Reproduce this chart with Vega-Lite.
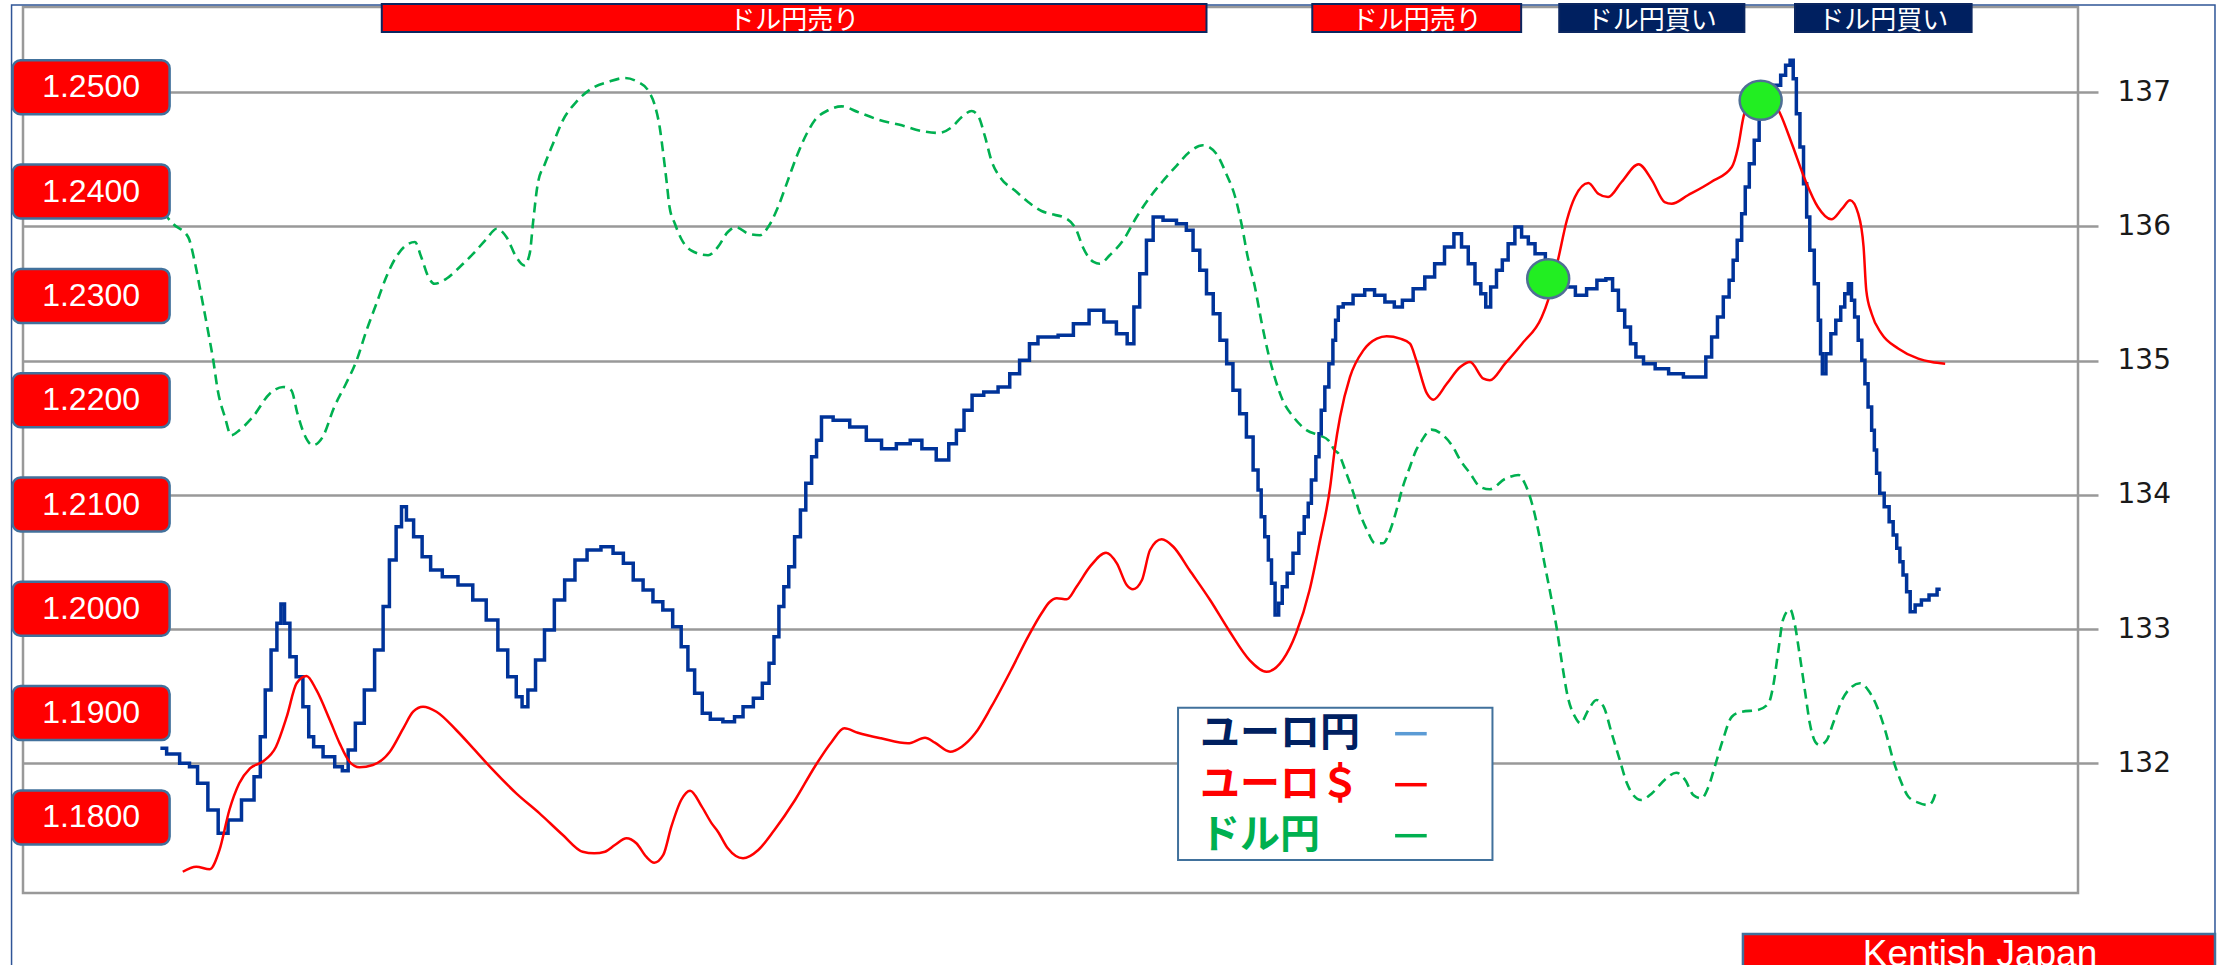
{
"$schema": "https://vega.github.io/schema/vega-lite/v6.json",
"width": 2055, "height": 886,
"autosize": {"type": "none"},
"padding": {"left": 23, "top": 7, "right": 146, "bottom": 72},
"background": "#ffffff",
"config": {"view": {"stroke": "#999999", "strokeWidth": 2.5}},
"datasets": {
"eurjpy": [
{"t":"2017-11-18T06:00","v":132.112},{"t":"2017-11-18T20:00","v":132.069},{"t":"2017-11-19T11:00","v":132.0},{"t":"2017-11-19T18:00","v":131.975},{"t":"2017-11-20T05:00","v":131.851},{"t":"2017-11-20T17:00","v":131.652},{"t":"2017-11-21T04:00","v":131.479},{"t":"2017-11-21T15:00","v":131.578},{"t":"2017-11-22T10:00","v":131.727},{"t":"2017-11-22T19:00","v":131.9},{"t":"2017-11-23T00:00","v":132.198},{"t":"2017-11-23T06:00","v":132.546},{"t":"2017-11-23T13:00","v":132.844},{"t":"2017-11-23T19:00","v":133.043},{"t":"2017-11-23T22:00","v":133.187},{"t":"2017-11-24T03:00","v":133.043},{"t":"2017-11-24T10:00","v":132.794},{"t":"2017-11-24T17:00","v":132.645},{"t":"2017-11-25T01:00","v":132.422},{"t":"2017-11-25T06:00","v":132.198},{"t":"2017-11-25T12:00","v":132.124},{"t":"2017-11-26T03:00","v":132.049},{"t":"2017-11-26T14:00","v":131.975},{"t":"2017-11-26T20:00","v":131.945},{"t":"2017-11-27T03:00","v":132.099},{"t":"2017-11-27T12:00","v":132.298},{"t":"2017-11-27T23:00","v":132.546},{"t":"2017-11-28T11:00","v":132.844},{"t":"2017-11-28T18:00","v":133.167},{"t":"2017-11-29T01:00","v":133.514},{"t":"2017-11-29T09:00","v":133.762},{"t":"2017-11-29T13:00","v":133.911},{"t":"2017-11-29T20:00","v":133.812},{"t":"2017-11-30T05:00","v":133.688},{"t":"2017-11-30T15:00","v":133.539},{"t":"2017-12-01T00:00","v":133.44},{"t":"2017-12-01T17:00","v":133.39},{"t":"2017-12-02T11:00","v":133.328},{"t":"2017-12-03T02:00","v":133.216},{"t":"2017-12-03T17:00","v":133.067},{"t":"2017-12-04T04:00","v":132.844},{"t":"2017-12-04T15:00","v":132.645},{"t":"2017-12-04T23:00","v":132.496},{"t":"2017-12-05T04:00","v":132.422},{"t":"2017-12-05T12:00","v":132.546},{"t":"2017-12-05T21:00","v":132.769},{"t":"2017-12-06T08:00","v":132.993},{"t":"2017-12-06T19:00","v":133.216},{"t":"2017-12-07T07:00","v":133.365},{"t":"2017-12-07T18:00","v":133.514},{"t":"2017-12-08T10:00","v":133.589},{"t":"2017-12-09T01:00","v":133.613},{"t":"2017-12-09T13:00","v":133.564},{"t":"2017-12-10T00:00","v":133.49},{"t":"2017-12-10T11:00","v":133.365},{"t":"2017-12-10T22:00","v":133.291},{"t":"2017-12-11T09:00","v":133.204},{"t":"2017-12-11T20:00","v":133.142},{"t":"2017-12-12T07:00","v":133.017},{"t":"2017-12-12T15:00","v":132.868},{"t":"2017-12-12T22:00","v":132.695},{"t":"2017-12-13T06:00","v":132.521},{"t":"2017-12-13T15:00","v":132.372},{"t":"2017-12-14T00:00","v":132.328},{"t":"2017-12-14T19:00","v":132.31},{"t":"2017-12-15T02:00","v":132.347},{"t":"2017-12-15T14:00","v":132.422},{"t":"2017-12-16T01:00","v":132.484},{"t":"2017-12-16T10:00","v":132.596},{"t":"2017-12-16T16:00","v":132.745},{"t":"2017-12-16T21:00","v":132.943},{"t":"2017-12-17T03:00","v":133.167},{"t":"2017-12-17T08:00","v":133.315},{"t":"2017-12-17T14:00","v":133.464},{"t":"2017-12-17T21:00","v":133.688},{"t":"2017-12-18T03:00","v":133.887},{"t":"2017-12-18T09:00","v":134.086},{"t":"2017-12-18T16:00","v":134.284},{"t":"2017-12-18T20:00","v":134.406},{"t":"2017-12-19T03:00","v":134.579},{"t":"2017-12-19T22:00","v":134.555},{"t":"2017-12-20T16:00","v":134.505},{"t":"2017-12-21T11:00","v":134.406},{"t":"2017-12-22T02:00","v":134.343},{"t":"2017-12-22T20:00","v":134.38},{"t":"2017-12-23T09:00","v":134.406},{"t":"2017-12-23T22:00","v":134.343},{"t":"2017-12-24T17:00","v":134.259},{"t":"2017-12-25T02:00","v":134.38},{"t":"2017-12-25T10:00","v":134.48},{"t":"2017-12-25T19:00","v":134.629},{"t":"2017-12-26T04:00","v":134.741},{"t":"2017-12-26T21:00","v":134.766},{"t":"2017-12-27T12:00","v":134.803},{"t":"2017-12-27T23:00","v":134.902},{"t":"2017-12-28T10:00","v":135.002},{"t":"2017-12-28T21:00","v":135.125},{"t":"2017-12-29T05:00","v":135.175},{"t":"2017-12-29T14:00","v":135.175},{"t":"2017-12-30T09:00","v":135.188},{"t":"2017-12-31T00:00","v":135.274},{"t":"2017-12-31T20:00","v":135.374},{"t":"2018-01-01T09:00","v":135.287},{"t":"2018-01-02T00:00","v":135.2},{"t":"2018-01-02T09:00","v":135.125},{"t":"2018-01-02T15:00","v":135.399},{"t":"2018-01-02T22:00","v":135.647},{"t":"2018-01-03T06:00","v":135.895},{"t":"2018-01-03T13:00","v":136.069},{"t":"2018-01-04T04:00","v":136.044},{"t":"2018-01-04T19:00","v":136.019},{"t":"2018-01-05T02:00","v":135.97},{"t":"2018-01-05T10:00","v":135.821},{"t":"2018-01-05T17:00","v":135.672},{"t":"2018-01-06T01:00","v":135.498},{"t":"2018-01-06T08:00","v":135.349},{"t":"2018-01-06T16:00","v":135.151},{"t":"2018-01-06T23:00","v":134.976},{"t":"2018-01-07T06:00","v":134.778},{"t":"2018-01-07T14:00","v":134.604},{"t":"2018-01-07T21:00","v":134.43},{"t":"2018-01-08T05:00","v":134.185},{"t":"2018-01-08T08:00","v":134.036},{"t":"2018-01-08T12:00","v":133.837},{"t":"2018-01-08T16:00","v":133.688},{"t":"2018-01-08T20:00","v":133.514},{"t":"2018-01-08T23:00","v":133.341},{"t":"2018-01-09T04:00","v":133.105},{"t":"2018-01-09T07:00","v":133.192},{"t":"2018-01-09T12:00","v":133.315},{"t":"2018-01-09T18:00","v":133.415},{"t":"2018-01-10T01:00","v":133.564},{"t":"2018-01-10T07:00","v":133.713},{"t":"2018-01-10T13:00","v":133.837},{"t":"2018-01-10T16:00","v":133.937},{"t":"2018-01-10T20:00","v":134.11},{"t":"2018-01-11T02:00","v":134.284},{"t":"2018-01-11T03:00","v":134.455},{"t":"2018-01-11T07:00","v":134.629},{"t":"2018-01-11T11:00","v":134.803},{"t":"2018-01-11T16:00","v":134.976},{"t":"2018-01-11T20:00","v":135.151},{"t":"2018-01-11T22:00","v":135.3},{"t":"2018-01-12T02:00","v":135.399},{"t":"2018-01-12T09:00","v":135.423},{"t":"2018-01-13T00:00","v":135.486},{"t":"2018-01-13T11:00","v":135.527},{"t":"2018-01-13T22:00","v":135.486},{"t":"2018-01-14T10:00","v":135.436},{"t":"2018-01-14T19:00","v":135.399},{"t":"2018-01-15T04:00","v":135.449},{"t":"2018-01-15T19:00","v":135.535},{"t":"2018-01-16T06:00","v":135.622},{"t":"2018-01-16T17:00","v":135.721},{"t":"2018-01-17T04:00","v":135.846},{"t":"2018-01-17T14:00","v":135.945},{"t":"2018-01-17T21:00","v":135.846},{"t":"2018-01-18T05:00","v":135.721},{"t":"2018-01-18T12:00","v":135.572},{"t":"2018-01-18T18:00","v":135.498},{"t":"2018-01-18T23:00","v":135.399},{"t":"2018-01-19T05:00","v":135.548},{"t":"2018-01-19T12:00","v":135.672},{"t":"2018-01-19T18:00","v":135.749},{"t":"2018-01-20T01:00","v":135.87},{"t":"2018-01-20T09:00","v":135.994},{"t":"2018-01-20T16:00","v":135.92},{"t":"2018-01-21T00:00","v":135.87},{"t":"2018-01-21T07:00","v":135.796},{"t":"2018-01-21T23:00","v":135.659},{"t":"2018-01-22T18:00","v":135.548},{"t":"2018-01-23T07:00","v":135.486},{"t":"2018-01-23T19:00","v":135.535},{"t":"2018-01-24T06:00","v":135.597},{"t":"2018-01-24T15:00","v":135.609},{"t":"2018-01-24T21:00","v":135.523},{"t":"2018-01-25T04:00","v":135.374},{"t":"2018-01-25T11:00","v":135.25},{"t":"2018-01-25T17:00","v":135.125},{"t":"2018-01-25T23:00","v":135.026},{"t":"2018-01-26T10:00","v":134.976},{"t":"2018-01-27T01:00","v":134.939},{"t":"2018-01-27T16:00","v":134.902},{"t":"2018-01-28T10:00","v":134.877},{"t":"2018-01-28T23:00","v":134.877},{"t":"2018-01-29T05:00","v":135.026},{"t":"2018-01-29T12:00","v":135.175},{"t":"2018-01-29T18:00","v":135.324},{"t":"2018-01-30T01:00","v":135.473},{"t":"2018-01-30T07:00","v":135.597},{"t":"2018-01-30T10:00","v":135.746},{"t":"2018-01-30T16:00","v":135.895},{"t":"2018-01-30T20:00","v":136.094},{"t":"2018-01-31T00:00","v":136.292},{"t":"2018-01-31T05:00","v":136.466},{"t":"2018-01-31T11:00","v":136.64},{"t":"2018-01-31T16:00","v":136.814},{"t":"2018-02-01T02:00","v":136.955},{"t":"2018-02-01T11:00","v":137.05},{"t":"2018-02-01T16:00","v":137.124},{"t":"2018-02-01T22:00","v":137.199},{"t":"2018-02-02T02:00","v":137.236},{"t":"2018-02-02T05:00","v":137.099},{"t":"2018-02-02T09:00","v":136.838},{"t":"2018-02-02T13:00","v":136.59},{"t":"2018-02-02T17:00","v":136.317},{"t":"2018-02-02T20:00","v":136.069},{"t":"2018-02-03T00:00","v":135.821},{"t":"2018-02-03T06:00","v":135.572},{"t":"2018-02-03T09:00","v":135.3},{"t":"2018-02-03T11:00","v":135.051},{"t":"2018-02-03T13:00","v":134.902},{"t":"2018-02-03T19:00","v":135.051},{"t":"2018-02-04T00:00","v":135.2},{"t":"2018-02-04T06:00","v":135.3},{"t":"2018-02-04T11:00","v":135.399},{"t":"2018-02-04T15:00","v":135.498},{"t":"2018-02-04T19:00","v":135.572},{"t":"2018-02-04T22:00","v":135.449},{"t":"2018-02-05T02:00","v":135.324},{"t":"2018-02-05T06:00","v":135.151},{"t":"2018-02-05T10:00","v":135.002},{"t":"2018-02-05T13:00","v":134.827},{"t":"2018-02-05T17:00","v":134.654},{"t":"2018-02-05T21:00","v":134.48},{"t":"2018-02-05T23:00","v":134.334},{"t":"2018-02-06T02:00","v":134.16},{"t":"2018-02-06T06:00","v":134.011},{"t":"2018-02-06T12:00","v":133.911},{"t":"2018-02-06T17:00","v":133.8},{"t":"2018-02-06T21:00","v":133.7},{"t":"2018-02-07T01:00","v":133.601},{"t":"2018-02-07T04:00","v":133.502},{"t":"2018-02-07T08:00","v":133.402},{"t":"2018-02-07T12:00","v":133.278},{"t":"2018-02-07T16:00","v":133.129},{"t":"2018-02-07T23:00","v":133.179},{"t":"2018-02-08T06:00","v":133.216},{"t":"2018-02-08T16:00","v":133.254},{"t":"2018-02-09T00:00","v":133.296}
],
"eurusd": [
{"t":"2017-11-19T07:00","v":1.17479},{"t":"2017-11-19T22:00","v":1.17527},{"t":"2017-11-20T13:00","v":1.17502},{"t":"2017-11-21T00:00","v":1.17688},{"t":"2017-11-21T11:00","v":1.18071},{"t":"2017-11-21T22:00","v":1.18327},{"t":"2017-11-22T10:00","v":1.18471},{"t":"2017-11-23T00:00","v":1.18534},{"t":"2017-11-23T15:00","v":1.18678},{"t":"2017-11-24T03:00","v":1.18966},{"t":"2017-11-24T14:00","v":1.19286},{"t":"2017-11-25T01:00","v":1.19356},{"t":"2017-11-25T12:00","v":1.19222},{"t":"2017-11-26T03:00","v":1.18934},{"t":"2017-11-26T14:00","v":1.1871},{"t":"2017-11-27T01:00","v":1.18534},{"t":"2017-11-27T12:00","v":1.1848},{"t":"2017-11-28T03:00","v":1.18502},{"t":"2017-11-28T22:00","v":1.1863},{"t":"2017-11-29T13:00","v":1.18854},{"t":"2017-11-30T00:00","v":1.19013},{"t":"2017-11-30T11:00","v":1.19061},{"t":"2017-12-01T02:00","v":1.19013},{"t":"2017-12-02T00:00","v":1.18838},{"t":"2017-12-02T19:00","v":1.18662},{"t":"2017-12-03T17:00","v":1.18455},{"t":"2017-12-04T19:00","v":1.18231},{"t":"2017-12-05T21:00","v":1.18039},{"t":"2017-12-06T23:00","v":1.17831},{"t":"2017-12-07T21:00","v":1.17671},{"t":"2017-12-08T10:00","v":1.17656},{"t":"2017-12-08T22:00","v":1.17671},{"t":"2017-12-09T09:00","v":1.17735},{"t":"2017-12-09T22:00","v":1.178},{"t":"2017-12-10T09:00","v":1.17752},{"t":"2017-12-10T20:00","v":1.17623},{"t":"2017-12-11T05:00","v":1.17566},{"t":"2017-12-11T15:00","v":1.1764},{"t":"2017-12-12T00:00","v":1.17911},{"t":"2017-12-12T11:00","v":1.18167},{"t":"2017-12-12T21:00","v":1.18256},{"t":"2017-12-13T10:00","v":1.18103},{"t":"2017-12-13T21:00","v":1.17943},{"t":"2017-12-14T04:00","v":1.17863},{"t":"2017-12-14T15:00","v":1.17704},{"t":"2017-12-15T08:00","v":1.17608},{"t":"2017-12-16T01:00","v":1.17688},{"t":"2017-12-16T19:00","v":1.17879},{"t":"2017-12-17T18:00","v":1.18167},{"t":"2017-12-18T16:00","v":1.18486},{"t":"2017-12-19T11:00","v":1.18726},{"t":"2017-12-20T01:00","v":1.18854},{"t":"2017-12-20T16:00","v":1.18812},{"t":"2017-12-21T18:00","v":1.18758},{"t":"2017-12-23T00:00","v":1.1871},{"t":"2017-12-23T19:00","v":1.18764},{"t":"2017-12-24T06:00","v":1.18716},{"t":"2017-12-24T23:00","v":1.1863},{"t":"2017-12-25T12:00","v":1.18678},{"t":"2017-12-26T03:00","v":1.18806},{"t":"2017-12-26T21:00","v":1.19061},{"t":"2017-12-27T19:00","v":1.19413},{"t":"2017-12-28T14:00","v":1.19733},{"t":"2017-12-29T05:00","v":1.19957},{"t":"2017-12-29T14:00","v":1.20065},{"t":"2017-12-29T22:00","v":1.20101},{"t":"2017-12-30T09:00","v":1.20091},{"t":"2017-12-30T20:00","v":1.20212},{"t":"2017-12-31T11:00","v":1.20404},{"t":"2018-01-01T05:00","v":1.20538},{"t":"2018-01-01T17:00","v":1.20436},{"t":"2018-01-02T04:00","v":1.20228},{"t":"2018-01-02T11:00","v":1.20187},{"t":"2018-01-02T21:00","v":1.20276},{"t":"2018-01-03T06:00","v":1.20564},{"t":"2018-01-03T19:00","v":1.20666},{"t":"2018-01-04T08:00","v":1.20595},{"t":"2018-01-05T02:00","v":1.20372},{"t":"2018-01-06T01:00","v":1.20084},{"t":"2018-01-06T23:00","v":1.1978},{"t":"2018-01-07T21:00","v":1.19509},{"t":"2018-01-08T16:00","v":1.19397},{"t":"2018-01-09T10:00","v":1.19509},{"t":"2018-01-10T01:00","v":1.19765},{"t":"2018-01-10T16:00","v":1.2018},{"t":"2018-01-11T03:00","v":1.20628},{"t":"2018-01-11T15:00","v":1.21171},{"t":"2018-01-11T20:00","v":1.21523},{"t":"2018-01-12T02:00","v":1.21839},{"t":"2018-01-12T13:00","v":1.22222},{"t":"2018-01-13T04:00","v":1.22478},{"t":"2018-01-13T19:00","v":1.2259},{"t":"2018-01-14T06:00","v":1.22613},{"t":"2018-01-14T21:00","v":1.2259},{"t":"2018-01-15T08:00","v":1.22542},{"t":"2018-01-15T15:00","v":1.22383},{"t":"2018-01-16T03:00","v":1.22062},{"t":"2018-01-16T10:00","v":1.22005},{"t":"2018-01-17T01:00","v":1.22158},{"t":"2018-01-17T16:00","v":1.22318},{"t":"2018-01-18T03:00","v":1.22366},{"t":"2018-01-18T18:00","v":1.22206},{"t":"2018-01-19T01:00","v":1.22191},{"t":"2018-01-19T18:00","v":1.2235},{"t":"2018-01-20T13:00","v":1.22542},{"t":"2018-01-21T11:00","v":1.22798},{"t":"2018-01-21T18:00","v":1.22958},{"t":"2018-01-22T05:00","v":1.23341},{"t":"2018-01-22T15:00","v":1.23725},{"t":"2018-01-23T00:00","v":1.23948},{"t":"2018-01-23T15:00","v":1.24082},{"t":"2018-01-24T02:00","v":1.2398},{"t":"2018-01-24T13:00","v":1.23948},{"t":"2018-01-25T04:00","v":1.24092},{"t":"2018-01-25T23:00","v":1.24262},{"t":"2018-01-26T14:00","v":1.24108},{"t":"2018-01-27T04:00","v":1.239},{"t":"2018-01-27T12:00","v":1.23884},{"t":"2018-01-28T06:00","v":1.23965},{"t":"2018-01-29T08:00","v":1.24092},{"t":"2018-01-30T07:00","v":1.24236},{"t":"2018-01-30T14:00","v":1.24428},{"t":"2018-01-30T20:00","v":1.24715},{"t":"2018-01-31T12:00","v":1.25007},{"t":"2018-02-01T13:00","v":1.24747},{"t":"2018-02-02T02:00","v":1.24459},{"t":"2018-02-02T17:00","v":1.24108},{"t":"2018-02-03T07:00","v":1.23852},{"t":"2018-02-03T22:00","v":1.23734},{"t":"2018-02-04T10:00","v":1.23836},{"t":"2018-02-04T19:00","v":1.23917},{"t":"2018-02-05T04:00","v":1.23788},{"t":"2018-02-05T10:00","v":1.23469},{"t":"2018-02-05T13:00","v":1.23054},{"t":"2018-02-05T19:00","v":1.22829},{"t":"2018-02-06T06:00","v":1.22638},{"t":"2018-02-07T01:00","v":1.22494},{"t":"2018-02-07T23:00","v":1.22398},{"t":"2018-02-08T14:00","v":1.22366},{"t":"2018-02-09T05:00","v":1.2235}
],
"usdjpy": [
{"t":"2017-11-18T09:00","v":112.806},{"t":"2017-11-18T20:00","v":112.719},{"t":"2017-11-19T13:00","v":112.62},{"t":"2017-11-19T20:00","v":112.446},{"t":"2017-11-20T04:00","v":112.173},{"t":"2017-11-20T11:00","v":111.925},{"t":"2017-11-20T17:00","v":111.702},{"t":"2017-11-20T22:00","v":111.478},{"t":"2017-11-21T06:00","v":111.279},{"t":"2017-11-21T13:00","v":111.143},{"t":"2017-11-21T22:00","v":111.18},{"t":"2017-11-22T13:00","v":111.279},{"t":"2017-11-23T08:00","v":111.453},{"t":"2017-11-23T23:00","v":111.503},{"t":"2017-11-24T08:00","v":111.478},{"t":"2017-11-24T15:00","v":111.304},{"t":"2017-11-24T23:00","v":111.143},{"t":"2017-11-25T08:00","v":111.069},{"t":"2017-11-25T19:00","v":111.13},{"t":"2017-11-26T08:00","v":111.354},{"t":"2017-11-26T21:00","v":111.527},{"t":"2017-11-27T09:00","v":111.702},{"t":"2017-11-27T20:00","v":111.925},{"t":"2017-11-28T07:00","v":112.123},{"t":"2017-11-28T18:00","v":112.322},{"t":"2017-11-29T05:00","v":112.471},{"t":"2017-11-29T16:00","v":112.558},{"t":"2017-11-30T02:00","v":112.583},{"t":"2017-11-30T09:00","v":112.471},{"t":"2017-11-30T17:00","v":112.322},{"t":"2017-12-01T00:00","v":112.272},{"t":"2017-12-01T13:00","v":112.309},{"t":"2017-12-02T04:00","v":112.397},{"t":"2017-12-02T19:00","v":112.496},{"t":"2017-12-03T10:00","v":112.607},{"t":"2017-12-03T21:00","v":112.682},{"t":"2017-12-04T08:00","v":112.62},{"t":"2017-12-04T19:00","v":112.471},{"t":"2017-12-05T04:00","v":112.409},{"t":"2017-12-05T10:00","v":112.496},{"t":"2017-12-05T14:00","v":112.744},{"t":"2017-12-05T19:00","v":113.017},{"t":"2017-12-06T03:00","v":113.166},{"t":"2017-12-06T12:00","v":113.315},{"t":"2017-12-06T23:00","v":113.489},{"t":"2017-12-07T14:00","v":113.626},{"t":"2017-12-08T10:00","v":113.737},{"t":"2017-12-09T01:00","v":113.774},{"t":"2017-12-09T20:00","v":113.804},{"t":"2017-12-10T11:00","v":113.774},{"t":"2017-12-10T22:00","v":113.713},{"t":"2017-12-11T05:00","v":113.613},{"t":"2017-12-11T11:00","v":113.439},{"t":"2017-12-11T15:00","v":113.24},{"t":"2017-12-11T19:00","v":113.017},{"t":"2017-12-11T22:00","v":112.843},{"t":"2017-12-12T04:00","v":112.719},{"t":"2017-12-12T11:00","v":112.607},{"t":"2017-12-12T22:00","v":112.521},{"t":"2017-12-13T17:00","v":112.484},{"t":"2017-12-14T04:00","v":112.546},{"t":"2017-12-14T15:00","v":112.657},{"t":"2017-12-15T00:00","v":112.694},{"t":"2017-12-15T14:00","v":112.645},{"t":"2017-12-16T03:00","v":112.633},{"t":"2017-12-16T12:00","v":112.694},{"t":"2017-12-16T23:00","v":112.843},{"t":"2017-12-17T10:00","v":113.042},{"t":"2017-12-17T21:00","v":113.24},{"t":"2017-12-18T07:00","v":113.389},{"t":"2017-12-18T16:00","v":113.489},{"t":"2017-12-19T07:00","v":113.564},{"t":"2017-12-19T22:00","v":113.593},{"t":"2017-12-20T16:00","v":113.551},{"t":"2017-12-21T15:00","v":113.494},{"t":"2017-12-22T17:00","v":113.452},{"t":"2017-12-23T15:00","v":113.41},{"t":"2017-12-24T10:00","v":113.395},{"t":"2017-12-25T01:00","v":113.439},{"t":"2017-12-25T12:00","v":113.514},{"t":"2017-12-25T23:00","v":113.558},{"t":"2017-12-26T06:00","v":113.526},{"t":"2017-12-26T14:00","v":113.365},{"t":"2017-12-26T21:00","v":113.191},{"t":"2017-12-27T08:00","v":113.054},{"t":"2017-12-27T23:00","v":112.968},{"t":"2017-12-28T14:00","v":112.881},{"t":"2017-12-29T05:00","v":112.814},{"t":"2017-12-29T14:00","v":112.794},{"t":"2017-12-30T09:00","v":112.756},{"t":"2017-12-30T20:00","v":112.67},{"t":"2017-12-31T03:00","v":112.546},{"t":"2017-12-31T15:00","v":112.434},{"t":"2017-12-31T22:00","v":112.421},{"t":"2018-01-01T09:00","v":112.484},{"t":"2018-01-02T00:00","v":112.595},{"t":"2018-01-02T15:00","v":112.769},{"t":"2018-01-03T06:00","v":112.918},{"t":"2018-01-03T21:00","v":113.042},{"t":"2018-01-04T12:00","v":113.154},{"t":"2018-01-05T02:00","v":113.253},{"t":"2018-01-05T17:00","v":113.303},{"t":"2018-01-06T08:00","v":113.24},{"t":"2018-01-06T19:00","v":113.091},{"t":"2018-01-07T05:00","v":112.918},{"t":"2018-01-07T12:00","v":112.719},{"t":"2018-01-07T19:00","v":112.471},{"t":"2018-01-08T03:00","v":112.248},{"t":"2018-01-08T10:00","v":112.0},{"t":"2018-01-08T18:00","v":111.751},{"t":"2018-01-09T01:00","v":111.577},{"t":"2018-01-09T10:00","v":111.404},{"t":"2018-01-09T22:00","v":111.279},{"t":"2018-01-10T13:00","v":111.18},{"t":"2018-01-11T03:00","v":111.143},{"t":"2018-01-11T13:00","v":111.106},{"t":"2018-01-11T20:00","v":111.031},{"t":"2018-01-12T00:00","v":111.009},{"t":"2018-01-12T09:00","v":110.86},{"t":"2018-01-12T17:00","v":110.711},{"t":"2018-01-13T00:00","v":110.562},{"t":"2018-01-13T08:00","v":110.438},{"t":"2018-01-13T17:00","v":110.339},{"t":"2018-01-14T02:00","v":110.339},{"t":"2018-01-14T10:00","v":110.438},{"t":"2018-01-14T17:00","v":110.587},{"t":"2018-01-15T00:00","v":110.76},{"t":"2018-01-15T08:00","v":110.909},{"t":"2018-01-15T15:00","v":111.034},{"t":"2018-01-15T19:00","v":111.08},{"t":"2018-01-16T08:00","v":111.185},{"t":"2018-01-16T21:00","v":111.143},{"t":"2018-01-17T08:00","v":111.056},{"t":"2018-01-17T16:00","v":110.959},{"t":"2018-01-18T03:00","v":110.86},{"t":"2018-01-18T14:00","v":110.76},{"t":"2018-01-19T01:00","v":110.741},{"t":"2018-01-19T18:00","v":110.818},{"t":"2018-01-20T09:00","v":110.847},{"t":"2018-01-20T16:00","v":110.786},{"t":"2018-01-21T00:00","v":110.637},{"t":"2018-01-21T07:00","v":110.438},{"t":"2018-01-21T14:00","v":110.19},{"t":"2018-01-21T22:00","v":109.916},{"t":"2018-01-22T04:00","v":109.693},{"t":"2018-01-22T09:00","v":109.469},{"t":"2018-01-22T16:00","v":109.196},{"t":"2018-01-23T00:00","v":109.047},{"t":"2018-01-23T06:00","v":108.998},{"t":"2018-01-23T15:00","v":109.097},{"t":"2018-01-24T00:00","v":109.172},{"t":"2018-01-24T08:00","v":109.122},{"t":"2018-01-24T17:00","v":108.924},{"t":"2018-01-25T02:00","v":108.725},{"t":"2018-01-25T10:00","v":108.551},{"t":"2018-01-25T17:00","v":108.464},{"t":"2018-01-26T02:00","v":108.427},{"t":"2018-01-26T14:00","v":108.477},{"t":"2018-01-27T04:00","v":108.576},{"t":"2018-01-27T17:00","v":108.63},{"t":"2018-01-28T03:00","v":108.576},{"t":"2018-01-28T12:00","v":108.464},{"t":"2018-01-28T21:00","v":108.439},{"t":"2018-01-29T05:00","v":108.526},{"t":"2018-01-29T12:00","v":108.675},{"t":"2018-01-29T21:00","v":108.874},{"t":"2018-01-30T07:00","v":109.047},{"t":"2018-01-30T18:00","v":109.084},{"t":"2018-01-31T12:00","v":109.097},{"t":"2018-02-01T00:00","v":109.147},{"t":"2018-02-01T05:00","v":109.271},{"t":"2018-02-01T11:00","v":109.544},{"t":"2018-02-01T16:00","v":109.767},{"t":"2018-02-02T00:00","v":109.847},{"t":"2018-02-02T05:00","v":109.743},{"t":"2018-02-02T11:00","v":109.494},{"t":"2018-02-02T17:00","v":109.221},{"t":"2018-02-02T22:00","v":108.998},{"t":"2018-02-03T04:00","v":108.861},{"t":"2018-02-03T09:00","v":108.836},{"t":"2018-02-03T17:00","v":108.874},{"t":"2018-02-04T00:00","v":108.998},{"t":"2018-02-04T10:00","v":109.172},{"t":"2018-02-04T21:00","v":109.271},{"t":"2018-02-05T06:00","v":109.296},{"t":"2018-02-05T15:00","v":109.246},{"t":"2018-02-06T01:00","v":109.122},{"t":"2018-02-06T10:00","v":108.948},{"t":"2018-02-06T19:00","v":108.725},{"t":"2018-02-07T03:00","v":108.576},{"t":"2018-02-07T12:00","v":108.451},{"t":"2018-02-07T23:00","v":108.407},{"t":"2018-02-08T10:00","v":108.389},{"t":"2018-02-08T15:00","v":108.419},{"t":"2018-02-08T18:00","v":108.471}
],
"ticks": [{"v":1.25},{"v":1.24},{"v":1.23},{"v":1.22},{"v":1.21},{"v":1.2},{"v":1.19},{"v":1.18}],
"cross": [{"t":"2018-01-21T18:10","v":1.23165},{"t":"2018-01-31T15:10","v":1.24875}],
"bands": [
{"label":"ドル円売り","start":"2017-11-28T13:00","end":"2018-01-05T21:00"},
{"label":"ドル円売り","start":"2018-01-10T19:00","end":"2018-01-20T12:00"},
{"label":"ドル円買い","start":"2018-01-22T06:30","end":"2018-01-30T21:00"},
{"label":"ドル円買い","start":"2018-02-02T05:30","end":"2018-02-10T10:30"}
]
},
"layer": [
{
"data": {"values": [{}]},
"mark": {"type": "rect", "filled": false, "stroke": "#2f5597", "strokeWidth": 1.5},
"encoding": {
"x": {"datum": {"year": 2017, "month": 11, "date": 11, "hours": 8}, "type": "temporal", "axis": null},
"x2": {"datum": {"year": 2018, "month": 2, "date": 21, "hours": 18}},
"y": {"datum": 137.648, "type": "quantitative", "scale": {"domain": [131.034, 137.6331], "nice": false, "zero": false}, "axis": null},
"y2": {"datum": 130.2}
}
},
{
"data": {"name": "usdjpy"},
"mark": {"type": "line", "interpolate": "monotone", "strokeWidth": 2.6, "strokeDash": [10, 6]},
"encoding": {
"x": {"field": "t", "type": "temporal", "axis": null},
"y": {"field": "v", "type": "quantitative", "scale": {"domain": [107.734, 114.3331], "nice": false, "zero": false}, "axis": null},
"color": {"datum": "ドル円", "type": "nominal",
"scale": {"domain": ["ユーロ円", "ユーロ＄", "ドル円"], "range": ["#5b9bd5", "#ff0000", "#00b050"]},
"legend": {"orient": "none", "legendX": 1155.3, "legendY": 699.7, "direction": "vertical", "title": null, "padding": 7,
"symbolType": "stroke", "symbolSize": 1000, "symbolStrokeWidth": 3.5, "symbolOffset": 205.6, "symbolDash": [40, 0],
"labelOffset": -230.9, "labelFont": "Noto Sans CJK JP", "labelFontSize": 40, "labelFontWeight": "bold", "labelLimit": 600, "labelColor": "#002060",
"rowPadding": 11,
"encode": {"labels": {"update": {"fill": {"signal": "datum.value === 'ユーロ円' ? '#002060' : datum.value === 'ユーロ＄' ? '#ff0000' : '#00b050'"}}}}
}
}
}
},
{
"data": {"name": "eurjpy"},
"mark": {"type": "line", "interpolate": "step", "color": "#003399", "strokeWidth": 3.5},
"encoding": {
"x": {"field": "t", "type": "temporal",
"scale": {"domain": [{"year": 2017, "month": 11, "date": 11, "hours": 20, "minutes": 46}, {"year": 2018, "month": 2, "date": 15, "hours": 9, "minutes": 11}], "nice": false},
"axis": {"values": [{"year": 2017, "month": 12, "date": 1}, {"year": 2017, "month": 12, "date": 15}, {"year": 2017, "month": 12, "date": 29}, {"year": 2018, "month": 1, "date": 12}, {"year": 2018, "month": 1, "date": 26}, {"year": 2018, "month": 2, "date": 9}],
"format": "%Y / %-m / %-d", "title": null, "grid": true, "gridColor": "#999999", "gridWidth": 2.5, "gridOpacity": 1,
"ticks": false, "tickSize": 0, "domain": false, "labelFont": "DejaVu Sans", "labelFontSize": 30, "labelColor": "#1a1a1a", "labelPadding": 8, "labelFlush": false, "labelOverlap": false}},
"y": {"field": "v", "type": "quantitative", "scale": {"domain": [131.034, 137.6331], "nice": false, "zero": false},
"axis": {"orient": "right", "values": [132, 133, 134, 135, 136, 137], "format": "d", "title": null, "grid": true, "gridColor": "#999999", "gridWidth": 2.5, "gridOpacity": 1,
"ticks": true, "tickSize": 20, "tickColor": "#999999", "tickWidth": 2.5, "domain": false,
"labelFont": "DejaVu Sans", "labelFontSize": 28, "labelColor": "#1a1a1a", "labelPadding": 19, "labelFlush": false}}
}
},
{
"data": {"name": "eurusd"},
"mark": {"type": "line", "interpolate": "monotone", "strokeWidth": 2.5},
"encoding": {
"x": {"field": "t", "type": "temporal", "axis": null},
"y": {"field": "v", "type": "quantitative", "scale": {"domain": [1.172752, 1.257699], "nice": false, "zero": false}, "axis": null},
"color": {"datum": "ユーロ＄", "type": "nominal",
"scale": {"domain": ["ユーロ円", "ユーロ＄", "ドル円"], "range": ["#5b9bd5", "#ff0000", "#00b050"]},
"legend": {"orient": "none", "legendX": 1155.3, "legendY": 699.7, "direction": "vertical", "title": null, "padding": 7,
"symbolType": "stroke", "symbolSize": 1000, "symbolStrokeWidth": 3.5, "symbolOffset": 205.6, "symbolDash": [40, 0],
"labelOffset": -230.9, "labelFont": "Noto Sans CJK JP", "labelFontSize": 40, "labelFontWeight": "bold", "labelLimit": 600, "labelColor": "#002060",
"rowPadding": 11,
"encode": {"labels": {"update": {"fill": {"signal": "datum.value === 'ユーロ円' ? '#002060' : datum.value === 'ユーロ＄' ? '#ff0000' : '#00b050'"}}}}
}
}
}
},
{
"data": {"name": "cross"},
"mark": {"type": "point", "shape": "M-1,0A1,0.93,0,1,1,1,0A1,0.93,0,1,1,-1,0Z", "size": 1764, "filled": true, "fill": "#22ee22", "stroke": "#4f6f95", "strokeWidth": 2.5, "opacity": 1},
"encoding": {
"x": {"field": "t", "type": "temporal", "axis": null},
"y": {"field": "v", "type": "quantitative", "scale": {"domain": [1.172752, 1.257699], "nice": false, "zero": false}, "axis": null}
}
},
{
"data": {"values": [{}]},
"mark": {"type": "rect", "fill": "#ffffff", "stroke": "#41719c", "strokeWidth": 2},
"encoding": {
"x": {"datum": {"year": 2018, "month": 1, "date": 4, "hours": 13, "minutes": 15}, "type": "temporal", "axis": null},
"x2": {"datum": {"year": 2018, "month": 1, "date": 19, "hours": 4}},
"y": {"datum": 132.4141, "type": "quantitative", "scale": {"domain": [131.034, 137.6331], "nice": false, "zero": false}, "axis": null},
"y2": {"datum": 131.2798}
}
},
{
"data": {"name": "ticks"},
"mark": {"type": "rect", "fill": "#ff0000", "stroke": "#41719c", "strokeWidth": 2.5, "cornerRadius": 8, "yOffset": -27, "y2Offset": 27},
"encoding": {
"x": {"datum": {"year": 2017, "month": 11, "date": 11, "hours": 9, "minutes": 9}, "type": "temporal", "axis": null},
"x2": {"datum": {"year": 2017, "month": 11, "date": 18, "hours": 16, "minutes": 19}},
"y": {"field": "v", "type": "quantitative", "scale": {"domain": [1.172752, 1.257699], "nice": false, "zero": false}, "axis": null},
"y2": {"field": "v"}
}
},
{
"data": {"name": "ticks"},
"mark": {"type": "text", "font": "Liberation Sans", "fontSize": 32, "color": "#ffffff", "align": "center", "baseline": "middle"},
"encoding": {
"x": {"datum": {"year": 2017, "month": 11, "date": 15, "hours": 0, "minutes": 45}, "type": "temporal", "axis": null},
"y": {"field": "v", "type": "quantitative", "scale": {"domain": [1.172752, 1.257699], "nice": false, "zero": false}, "axis": null},
"text": {"field": "v", "type": "quantitative", "format": ".4f"}
}
},
{
"data": {"name": "bands"},
"mark": {"type": "rect", "stroke": "#0b2660", "strokeWidth": 2},
"encoding": {
"x": {"field": "start", "type": "temporal", "axis": null},
"x2": {"field": "end"},
"y": {"datum": 137.655, "type": "quantitative", "scale": {"domain": [131.034, 137.6331], "nice": false, "zero": false}, "axis": null},
"y2": {"datum": 137.447},
"fill": {"field": "label", "type": "nominal", "scale": {"domain": ["ドル円売り", "ドル円買い"], "range": ["#ff0000", "#002060"]}, "legend": null}
}
},
{
"data": {"name": "bands"},
"transform": [{"calculate": "(time(datum.start) + time(datum.end)) / 2", "as": "mid"}],
"mark": {"type": "text", "font": "Noto Sans CJK JP", "fontSize": 26, "color": "#ffffff", "align": "center", "baseline": "middle"},
"encoding": {
"x": {"field": "mid", "type": "temporal", "axis": null},
"y": {"datum": 137.53, "type": "quantitative", "scale": {"domain": [131.034, 137.6331], "nice": false, "zero": false}, "axis": null},
"text": {"field": "label", "type": "nominal"}
}
},
{
"data": {"values": [{}]},
"mark": {"type": "rect", "fill": "#ff0000", "stroke": "#41719c", "strokeWidth": 2.5},
"encoding": {
"x": {"datum": {"year": 2018, "month": 1, "date": 30, "hours": 19, "minutes": 25}, "type": "temporal", "axis": null},
"x2": {"datum": {"year": 2018, "month": 2, "date": 21, "hours": 18}},
"y": {"datum": 130.729, "type": "quantitative", "scale": {"domain": [131.034, 137.6331], "nice": false, "zero": false}, "axis": null},
"y2": {"datum": 130.3}
}
},
{
"data": {"values": [{}]},
"mark": {"type": "text", "font": "Liberation Sans", "fontSize": 37, "color": "#ffffff", "align": "center", "baseline": "alphabetic"},
"encoding": {
"x": {"datum": {"year": 2018, "month": 2, "date": 10, "hours": 19, "minutes": 51}, "type": "temporal", "axis": null},
"y": {"datum": 130.49, "type": "quantitative", "scale": {"domain": [131.034, 137.6331], "nice": false, "zero": false}, "axis": null},
"text": {"value": "Kentish Japan"}
}
}
],
"resolve": {"scale": {"y": "independent"}}
}
